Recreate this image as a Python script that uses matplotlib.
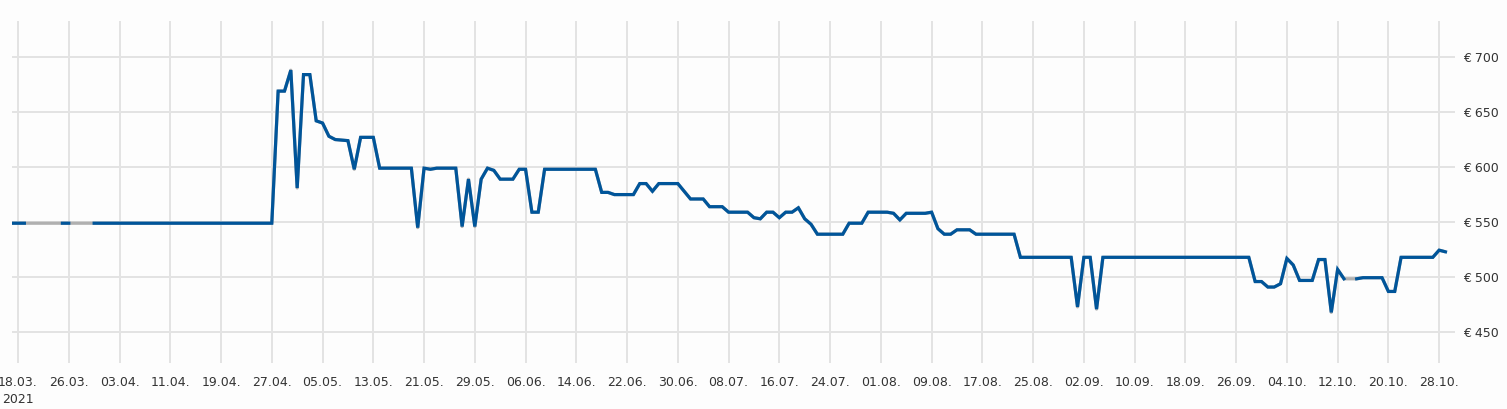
import pandas as pd
import numpy as np
import matplotlib
matplotlib.use('Agg')
import matplotlib.pyplot as plt
import matplotlib.dates as mdates

# Price history (vertices of the line), NaN = no data
dates = ['2021-03-17', '2021-03-19', '2021-03-20', '2021-03-25', '2021-03-26', '2021-03-27',
         '2021-03-30', '2021-04-27', '2021-04-28', '2021-04-29', '2021-04-30', '2021-05-01',
         '2021-05-02', '2021-05-03', '2021-05-04', '2021-05-05', '2021-05-06', '2021-05-07',
         '2021-05-09', '2021-05-10', '2021-05-11', '2021-05-13', '2021-05-14', '2021-05-19',
         '2021-05-20', '2021-05-21', '2021-05-22', '2021-05-23', '2021-05-26', '2021-05-27',
         '2021-05-28', '2021-05-29', '2021-05-30', '2021-05-31', '2021-06-01', '2021-06-02',
         '2021-06-04', '2021-06-05', '2021-06-06', '2021-06-07', '2021-06-08', '2021-06-09',
         '2021-06-17', '2021-06-18', '2021-06-19', '2021-06-20', '2021-06-23', '2021-06-24',
         '2021-06-25', '2021-06-26', '2021-06-27', '2021-06-30', '2021-07-01', '2021-07-02',
         '2021-07-04', '2021-07-05', '2021-07-07', '2021-07-08', '2021-07-11', '2021-07-12',
         '2021-07-13', '2021-07-14', '2021-07-15', '2021-07-16', '2021-07-17', '2021-07-18',
         '2021-07-19', '2021-07-20', '2021-07-21', '2021-07-22', '2021-07-26', '2021-07-27',
         '2021-07-29', '2021-07-30', '2021-08-02', '2021-08-03', '2021-08-04', '2021-08-05',
         '2021-08-08', '2021-08-09', '2021-08-10', '2021-08-11', '2021-08-12', '2021-08-13',
         '2021-08-15', '2021-08-16', '2021-08-22', '2021-08-23', '2021-08-31', '2021-09-01',
         '2021-09-02', '2021-09-03', '2021-09-04', '2021-09-05', '2021-09-28', '2021-09-29',
         '2021-09-30', '2021-10-01', '2021-10-02', '2021-10-03', '2021-10-04', '2021-10-05',
         '2021-10-06', '2021-10-08', '2021-10-09', '2021-10-10', '2021-10-11', '2021-10-12',
         '2021-10-13', '2021-10-14', '2021-10-15', '2021-10-16', '2021-10-19', '2021-10-20',
         '2021-10-21', '2021-10-22', '2021-10-27', '2021-10-28', '2021-10-29']
prices = [549, 549, np.nan, 549, 549, np.nan,
          549, 549, 669, 669, 688, 581,
          684, 684, 642, 640, 628, 625,
          624, 598, 627, 627, 599, 599,
          545, 599, 598, 599, 599, 546,
          589, 546, 589, 599, 597, 589,
          589, 598, 598, 559, 559, 598,
          598, 577, 577, 575, 575, 585,
          585, 578, 585, 585, 578, 571,
          571, 564, 564, 559, 559, 554,
          553, 559, 559, 554, 559, 559,
          563, 553, 548, 539, 539, 549,
          549, 559, 559, 558, 552, 558,
          558, 559, 544, 539, 539, 543,
          543, 539, 539, 518, 518, 473,
          518, 518, 471, 518, 518, 496,
          496, 491, 491, 494, 517, 511,
          497, 497, 516, 516, 468, 507,
          498.5, np.nan, 498.5, 499.5, 499.5, 487,
          487, 518, 518, 524.5, 523]

y_ticks = [450, 500, 550, 600, 650, 700]
x_ticks = pd.date_range('2021-03-18', '2021-10-28', freq='8D')

df = pd.DataFrame({'date': pd.to_datetime(dates), 'price': prices})

fig = plt.figure(figsize=(15.07, 4.09), dpi=100, facecolor='#fdfdfd')
ax = fig.add_axes([12 / 1507, 46 / 409, 1443 / 1507, 342 / 409])
ax.set_facecolor('#fdfdfd')

# grey line bridges the gaps, blue line breaks on NaN
valid = df.dropna()
ax.plot(valid['date'], valid['price'], color='#b0b0b0', lw=2.3, solid_capstyle='butt', zorder=2)
ax.plot(df['date'], df['price'], color='#00559a', lw=2.3, solid_joinstyle='miter', zorder=3)

ax.set_xlim(pd.Timestamp('2021-03-18') - pd.Timedelta(days=0.95),
            pd.Timestamp('2021-03-18') + pd.Timedelta(days=226.5))
ax.set_ylim(422, 732.7)

ax.set_xticks(x_ticks)
labels = [d.strftime('%d.%m.') for d in x_ticks]
labels[0] = labels[0] + '\n2021'
ax.set_xticklabels(labels, fontsize=9, color='#333333', linespacing=1.45, va='top')
ax.set_yticks(y_ticks)
ax.set_yticklabels(['€ %d' % v for v in y_ticks], fontsize=9, color='#333333')

ax.yaxis.tick_right()
ax.tick_params(axis='both', length=0)
ax.tick_params(axis='x', pad=9)
ax.tick_params(axis='y', pad=6)

ax.grid(True, color='#e3e3e3', lw=1.4, zorder=0)
for s in ax.spines.values():
    s.set_visible(False)

plt.savefig('out.png', dpi=100, facecolor=fig.get_facecolor())
